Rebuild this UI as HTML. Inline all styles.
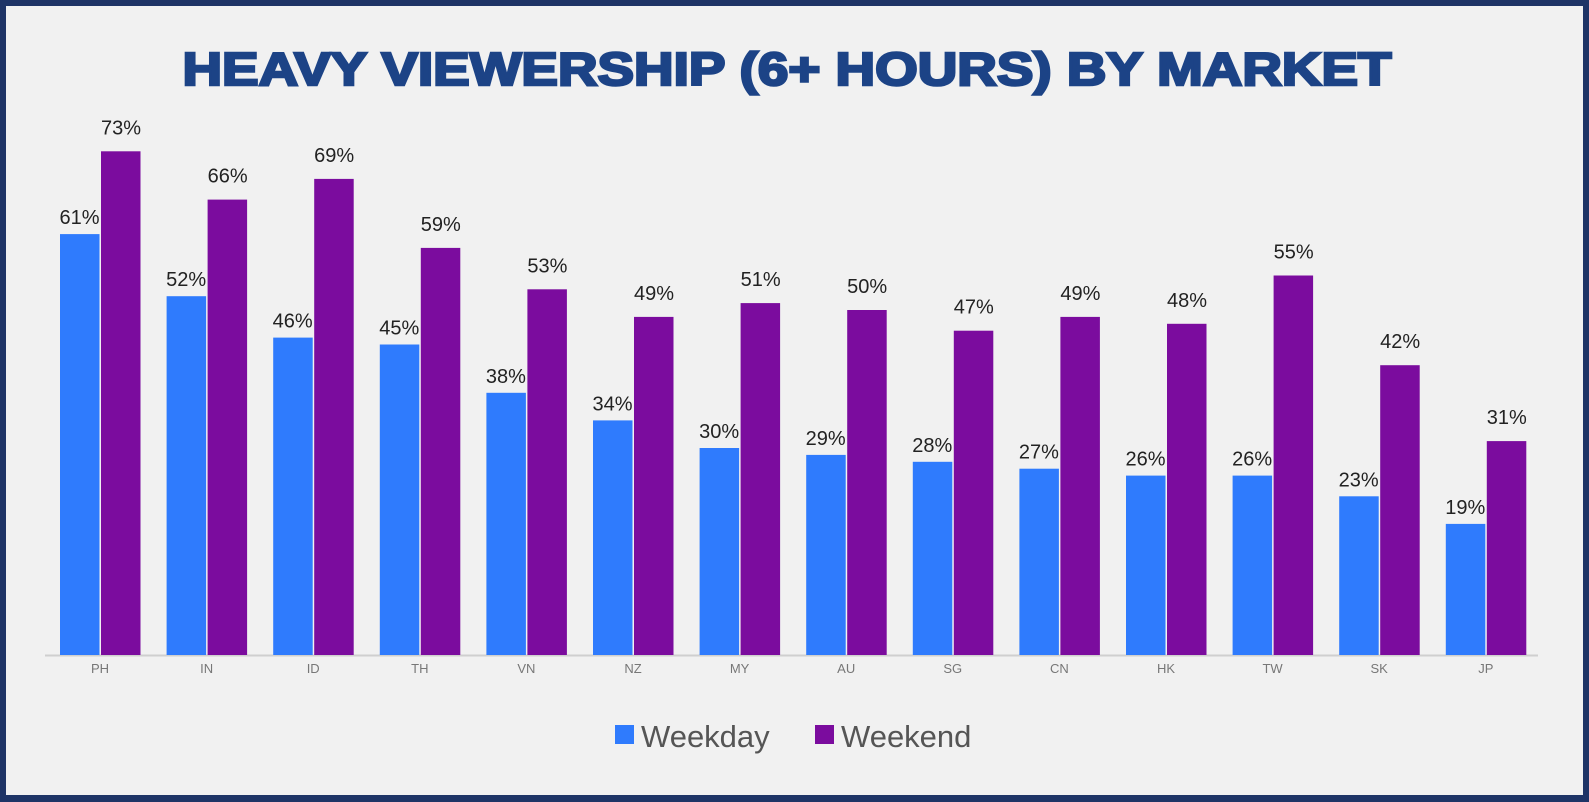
<!DOCTYPE html>
<html><head><meta charset="utf-8"><style>
html,body{margin:0;padding:0;}
body{width:1589px;height:802px;background:#1e3466;overflow:hidden;}
svg{display:block;}
</style></head><body>
<svg width="1589" height="802" xmlns="http://www.w3.org/2000/svg" font-family="Liberation Sans, sans-serif">
<rect x="6" y="6" width="1577" height="789" fill="#f1f1f1"/>
<text x="787" y="85" text-anchor="middle" font-size="46" font-weight="bold" fill="#1c4386" textLength="1209" lengthAdjust="spacingAndGlyphs" stroke="#1c4386" stroke-width="2.5">HEAVY VIEWERSHIP (6+ HOURS) BY MARKET</text>
<line x1="45" y1="655.5" x2="1538" y2="655.5" stroke="#cfcfcf" stroke-width="2"/>
<g id="bars"></g>
<rect x="615" y="725" width="19" height="19" fill="#2f7bfd"/>
<text x="641" y="747" font-size="31" fill="#555">Weekday</text>
<rect x="815" y="725" width="19" height="19" fill="#7b0c9e"/>
<text x="841" y="747" font-size="31" fill="#555">Weekend</text>
</svg>
<script>
var d=[["PH",61,73],["IN",52,66],["ID",46,69],["TH",45,59],["VN",38,53],["NZ",34,49],["MY",30,51],["AU",29,50],["SG",28,47],["CN",27,49],["HK",26,48],["TW",26,55],["SK",23,42],["JP",19,31]];
var g=document.getElementById('bars'),s='',base=655,k=6.9;
d.forEach(function(r,i){
 var x=60+i*106.6;
 var h1=r[1]*k,h2=r[2]*k;
 s+='<rect x="'+x+'" y="'+(base-h1)+'" width="39.5" height="'+h1+'" fill="#2f7bfd"/>';
 s+='<rect x="'+(x+41)+'" y="'+(base-h2)+'" width="39.5" height="'+h2+'" fill="#7b0c9e"/>';
 s+='<text x="'+(x+19.5)+'" y="'+(base-h1-10)+'" text-anchor="middle" font-size="20" fill="#222">'+r[1]+'%</text>';
 s+='<text x="'+(x+61)+'" y="'+(base-h2-17)+'" text-anchor="middle" font-size="20" fill="#222">'+r[2]+'%</text>';
 s+='<text x="'+(x+40)+'" y="673" text-anchor="middle" font-size="13" fill="#777">'+r[0]+'</text>';
});
g.innerHTML=s;
</script>
</body></html>
